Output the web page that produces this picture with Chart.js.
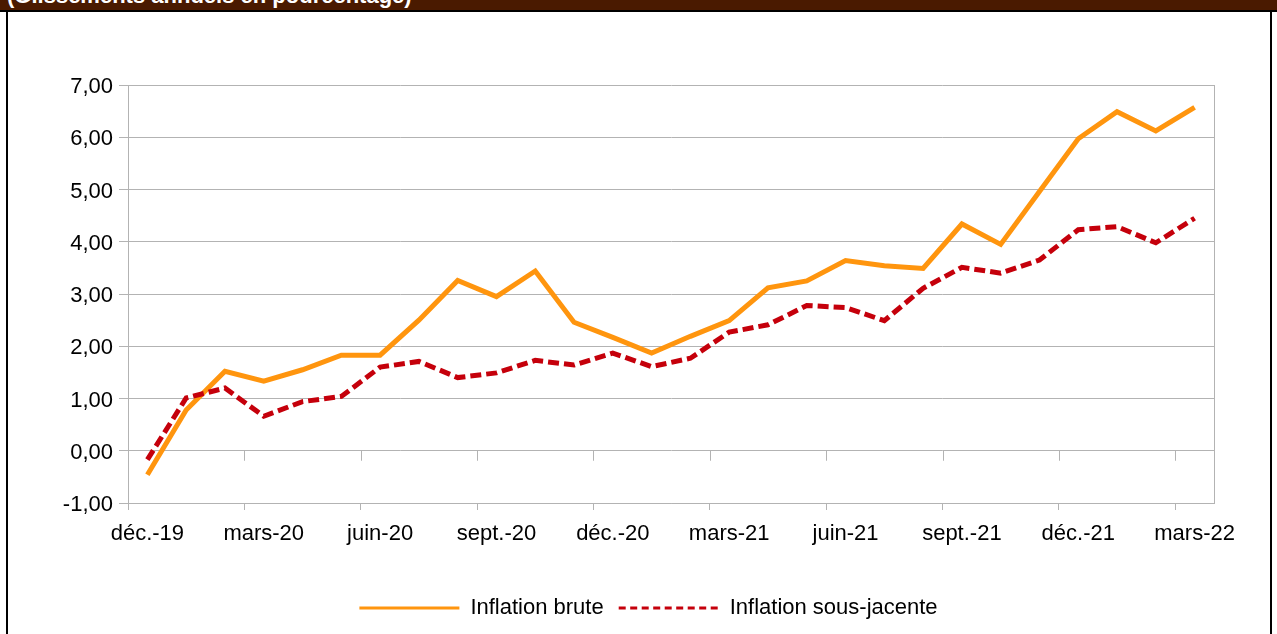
<!DOCTYPE html>
<html lang="fr">
<head>
<meta charset="utf-8">
<title>Inflation brute / sous-jacente</title>
<script src="https://cdn.jsdelivr.net/npm/chart.js@4.4.1/dist/chart.umd.min.js"></script>
<style>
  html, body { margin: 0; padding: 0; background: #fff; }
  #frame { position: relative; width: 1277px; height: 634px; overflow: hidden; background: #fff; }
  #hdr {
    position: absolute; left: 0; top: 0; width: 1277px; height: 10px;
    background: #4a1a00; border-bottom: 2px solid #000; overflow: hidden; z-index: 2;
  }
  #hdr span {
    position: absolute; left: 7px; top: -15px; white-space: nowrap;
    font: bold 22px/22px "Liberation Sans", Arial, sans-serif; color: #fff;
  }
  .side { position: absolute; top: 10px; bottom: 0; width: 2px; background: #000; z-index: 2; }
  #chart { position: absolute; left: 0; top: 0; }
</style>
</head>
<body>
<div id="frame">
  <div id="hdr"><span>(Glissements annuels en pourcentage)</span></div>
  <div class="side" style="left:6px"></div>
  <div class="side" style="left:1270px"></div>
  <canvas id="chart" width="1277" height="634"></canvas>
</div>

<script>
/* -----------------------------------------------------------
      DATA
------------------------------------------------------------*/
const months = [
  "déc.-19", "janv.-20", "févr.-20", "mars-20", "avr.-20", "mai-20",
  "juin-20", "juil.-20", "août-20", "sept.-20", "oct.-20", "nov.-20",
  "déc.-20", "janv.-21", "févr.-21", "mars-21", "avr.-21", "mai-21",
  "juin-21", "juil.-21", "août-21", "sept.-21", "oct.-21", "nov.-21",
  "déc.-21", "janv.-22", "févr.-22", "mars-22"
];

const inflationBrute = [
  -0.46, 0.78, 1.52, 1.33, 1.55, 1.83, 1.83, 2.50, 3.26, 2.95,
  3.44, 2.46, 2.17, 1.87, 2.19, 2.49, 3.12, 3.25, 3.64, 3.54,
  3.49, 4.34, 3.95, 4.96, 5.97, 6.49, 6.12, 6.57
];

const inflationSousJacente = [
  -0.17, 1.01, 1.20, 0.66, 0.94, 1.04, 1.60, 1.71, 1.40, 1.49,
  1.73, 1.64, 1.87, 1.61, 1.77, 2.27, 2.41, 2.78, 2.74, 2.49,
  3.11, 3.51, 3.40, 3.65, 4.23, 4.29, 3.98, 4.45
];

const yTicks = [-1, 0, 1, 2, 3, 4, 5, 6, 7];

const GRID = "#b3b3b3";
const FONT = { family: "'Liberation Sans', Arial, sans-serif", size: 22 };

/* format 1.5 -> "1,50" */
function frNumber(v) {
  return Number(v).toFixed(2).replace(".", ",");
}

/* -----------------------------------------------------------
      SMALL PLUGINS
------------------------------------------------------------*/
// tick marks hanging under the zero line, every 3 months
const zeroTicks = {
  id: "zeroTicks",
  beforeDatasetsDraw(chart) {
    const xs = chart.scales.x;
    const ys = chart.scales.y;
    const y0 = ys.getPixelForValue(0);
    const ctx = chart.ctx;
    ctx.save();
    ctx.strokeStyle = GRID;
    ctx.lineWidth = 1;
    for (let i = 3; i < months.length; i += 3) {
      const x = Math.round(xs.getPixelForValue(i - 0.5)) + 0.5;
      ctx.beginPath();
      ctx.moveTo(x, y0);
      ctx.lineTo(x, y0 + 10);
      ctx.stroke();
    }
    ctx.restore();
  }
};

// nudge the legend a bit to the right
const legendShift = {
  id: "legendShift",
  afterLayout(chart) {
    chart.legend.left += 10;
    chart.legend.right += 10;
  }
};

/* -----------------------------------------------------------
      CHART
------------------------------------------------------------*/
const defaultLabels = Chart.defaults.plugins.legend.labels.generateLabels;

new Chart(document.getElementById("chart"), {
  type: "line",
  data: {
    labels: months,
    datasets: [
      {
        label: "Inflation brute",
        data: inflationBrute,
        borderColor: "#ff950e",
        backgroundColor: "#ff950e",
        borderWidth: 5,
        pointRadius: 0,
        tension: 0,
        order: 1
      },
      {
        label: "Inflation sous-jacente",
        data: inflationSousJacente,
        borderColor: "#c5000b",
        backgroundColor: "#c5000b",
        borderWidth: 5,
        borderDash: [11, 5],
        pointRadius: 0,
        tension: 0,
        order: 0
      }
    ]
  },
  options: {
    responsive: false,
    animation: false,
    devicePixelRatio: 1,
    layout: { padding: { left: 0, right: 0, top: 85, bottom: 5 } },
    plugins: {
      tooltip: { enabled: false },
      legend: {
        position: "bottom",
        labels: {
          color: "#000",
          font: FONT,
          usePointStyle: true,
          pointStyle: "line",
          pointStyleWidth: 100,
          padding: 15,
          sort: (a, b) => a.datasetIndex - b.datasetIndex,
          generateLabels(chart) {
            return defaultLabels(chart).map((item) => {
              const ds = chart.data.datasets[item.datasetIndex];
              item.strokeStyle = ds.borderColor;
              item.lineWidth = 3;
              item.lineDash = item.datasetIndex === 1 ? [7, 4.5] : [];
              item.pointStyle = "line";
              return item;
            });
          }
        }
      }
    },
    scales: {
      x: {
        type: "category",
        offset: true,
        afterFit(scale) { scale.height = 79; },
        grid: {
          offset: true,
          drawOnChartArea: false,
          tickLength: 7,
          color: (c) => (c.index % 3 === 0 ? GRID : "rgba(0,0,0,0)")
        },
        border: { display: true, color: GRID },
        ticks: {
          autoSkip: false,
          maxRotation: 0,
          padding: 11,
          color: "#000",
          font: FONT,
          callback(val, i) { return i % 3 === 0 ? months[i] : ""; }
        }
      },
      y: {
        min: yTicks[0],
        max: yTicks[yTicks.length - 1],
        afterFit(scale) { scale.width = 128; },
        afterBuildTicks(scale) { scale.ticks = yTicks.map((v) => ({ value: v })); },
        grid: { color: GRID, tickLength: 9 },
        border: { display: true, color: GRID },
        ticks: {
          padding: 6,
          labelOffset: 2,
          color: "#000",
          font: FONT,
          callback: (v) => frNumber(v)
        }
      },
      yRight: {
        position: "right",
        afterFit(scale) { scale.width = 63; },
        grid: { drawOnChartArea: false, drawTicks: false },
        border: { display: true, color: GRID },
        ticks: { display: false }
      }
    }
  },
  plugins: [zeroTicks, legendShift]
});
</script>
</body>
</html>
